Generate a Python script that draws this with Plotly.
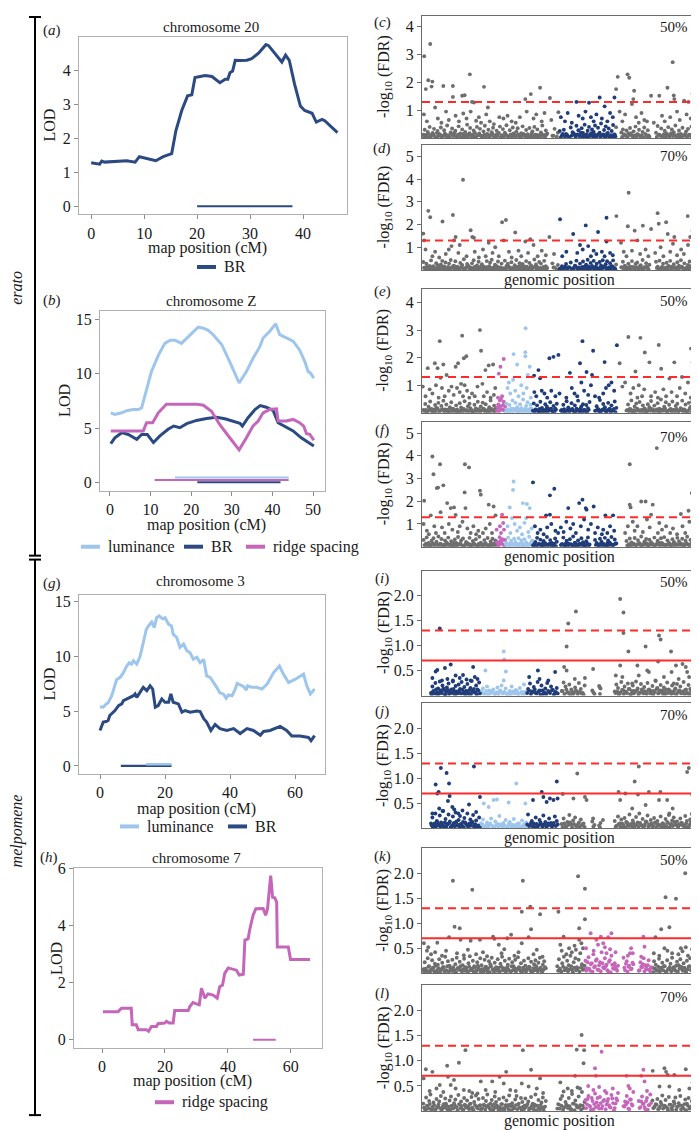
import plotly.graph_objects as go

# The page body adds an 8px margin, so the figure is drawn 8px smaller and every
# position below (given in reference-image pixels) is shifted by that offset.
OFF = 8
W, H = 699 - OFF, 1130 - OFF
FONT = "Liberation Serif"

C_BR = "#2b4a82"
C_LUM = "#9ec6ec"
C_RIDGE = "#c467ba"
C_GREY = "#6e6e6e"
C_BR_PT = "#203d7a"
C_RED = "#ff2a2a"
TXT = "#1a1a1a"

# ---------------- LOD profiles (map position cM, LOD) ----------------
a_pos = [0, 1.1, 1.6, 2.0, 2.5, 6.7, 7.7, 8.3, 9.1, 10.5, 12.2, 13.6, 15.2, 16.0, 17.1,
         18.2, 19.0, 19.6, 20.6, 21.5, 22.8, 24.3, 25.3, 25.8, 26.2, 26.7, 27.2, 28.1, 29.4, 30.3,
         31.6, 33.0, 33.5, 34.7, 36.0, 36.7, 37.4, 38.4, 39.5, 40.3, 41.7, 42.5, 43.6, 44.1, 46.5]
a_br = [1.28, 1.26, 1.24, 1.33, 1.30, 1.34, 1.31, 1.30, 1.46, 1.40, 1.34, 1.46, 1.55, 2.23, 2.82,
        3.25, 3.28, 3.79, 3.83, 3.85, 3.82, 3.64, 3.74, 3.74, 3.93, 3.98, 4.30, 4.29, 4.30, 4.35,
        4.51, 4.76, 4.73, 4.51, 4.25, 4.45, 4.30, 3.60, 2.95, 2.82, 2.74, 2.48, 2.56, 2.52, 2.17]
a_ci_br = [20.0, 38.0]

b_lum_pos = [0.2, 1.2, 2.9, 4.1, 5.7, 7.0, 7.8, 9.0, 10.2, 11.9, 13.5, 14.8, 16.0, 17.6, 18.9,
             20.5, 21.7, 23.0, 24.2, 25.4, 27.5, 29.5, 31.8, 33.6, 35.2, 36.9, 37.7, 39.3, 40.8,
             41.8, 43.0, 45.1, 46.7, 48.0, 48.8, 49.3, 50.2]
b_lum = [6.4, 6.25, 6.4, 6.6, 6.7, 6.7, 6.86, 8.5, 10.2, 11.7, 12.8, 13.1, 13.1, 12.8, 13.3,
         13.9, 14.3, 14.2, 14.0, 13.6, 12.7, 11.1, 9.15, 10.2, 11.4, 12.5, 13.3, 13.9, 14.6,
         13.6, 13.4, 13.0, 12.2, 11.1, 10.2, 10.1, 9.6]
b_br_pos = [0.2, 1.2, 2.9, 4.5, 6.6, 7.8, 9.2, 10.7, 12.3, 14.3, 15.7, 17.2, 18.9, 21.3, 23.8,
            26.2, 28.3, 30.3, 32.0, 32.6, 34.0, 35.7, 37.0, 38.5, 40.2, 41.4, 43.0, 45.1, 47.1,
            48.8, 50.2]
b_br = [3.57, 4.1, 4.57, 4.4, 3.96, 4.4, 4.4, 3.66, 4.27, 4.88, 5.18, 5.03, 5.4, 5.7, 5.88,
        6.0, 5.85, 5.64, 5.43, 5.18, 5.95, 6.7, 7.07, 6.92, 6.6, 5.49, 5.18, 4.73, 4.1, 3.66, 3.35]
b_ridge_pos = [0.2, 8.2, 9.0, 10.5, 11.9, 13.9, 21.3, 23.0, 25.0, 27.0, 29.5, 31.8, 33.6, 35.2,
               36.5, 37.7, 39.3, 41.0, 41.4, 43.4, 45.1, 46.7, 47.7, 48.4, 49.2, 50.2]
b_ridge = [4.73, 4.73, 5.49, 5.49, 6.4, 7.2, 7.2, 7.1, 6.55, 5.33, 4.1, 2.99, 4.1, 5.18, 5.64,
           6.4, 6.7, 6.77, 5.64, 5.64, 5.79, 5.49, 5.18, 4.48, 4.42, 3.87]
b_ci_lum = [16.0, 44.0]
b_ci_ridge = [11.0, 44.0]
b_ci_br = [21.5, 42.0]

g_lum_pos = [0, 1.0, 1.9, 2.5, 3.6, 4.6, 5.1, 6.2, 7.2, 8.2, 9.0, 9.7, 10.3, 11.3, 12.3, 13.3,
             14.2, 14.9, 15.9, 16.7, 17.4, 18.2, 19.3, 20.0, 21.1, 22.0, 22.5, 23.6, 24.6, 25.7,
             26.7, 27.7, 28.7, 29.8, 30.8, 31.9, 32.8, 33.9, 34.9, 35.9, 36.9, 37.9, 38.8, 39.5,
             40.6, 41.6, 42.2, 43.1, 44.1, 45.0, 45.4, 46.6, 48.2, 49.8, 51.4, 53.4, 55.2, 56.4,
             58.0, 60.1, 62.6, 63.6, 64.7, 66.0]
g_lum = [5.4, 5.35, 5.65, 5.74, 6.4, 7.3, 7.85, 8.07, 8.5, 9.1, 9.4, 9.27, 9.58, 9.27, 9.97, 11.2,
         12.4, 12.75, 13.1, 12.6, 13.5, 13.66, 13.4, 13.5, 12.9, 12.75, 12.0, 11.7, 10.8, 11.1,
         10.5, 10.3, 9.73, 9.9, 9.4, 9.7, 8.2, 8.07, 7.67, 7.16, 6.65, 6.56, 6.16, 6.47,
         6.4, 7.0, 7.52, 7.37, 7.25, 6.92, 7.31, 7.16, 7.16, 7.0, 7.46, 8.5, 9.1, 8.37,
         7.6, 7.9, 8.37, 7.3, 6.56, 7.0]
g_br_pos = [0, 1.0, 1.9, 2.5, 3.0, 4.6, 5.7, 6.7, 7.2, 8.2, 9.2, 10.3, 10.8, 11.3, 12.3, 13.3,
            14.4, 15.4, 16.2, 17.0, 17.9, 19.0, 20.0, 21.1, 21.8, 22.5, 24.1, 25.2, 26.2, 27.7,
            29.8, 30.8, 31.9, 32.8, 34.1, 35.4, 36.9, 39.0, 41.1, 43.1, 45.2, 47.2, 49.3, 50.3,
            52.3, 55.4, 57.4, 59.0, 61.5, 64.1, 64.9, 66.0]
g_br = [3.23, 4.0, 4.05, 4.14, 4.6, 5.05, 5.5, 5.65, 5.95, 6.1, 6.25, 6.4, 6.56, 6.25, 6.7, 7.16,
        6.86, 7.3, 7.0, 5.35, 5.5, 6.1, 5.8, 5.8, 6.56, 5.8, 5.65, 4.9, 5.05, 4.9,
        5.0, 4.95, 4.3, 4.0, 3.23, 3.78, 3.4, 3.23, 3.4, 2.95, 3.4, 3.23, 2.8, 3.14,
        3.23, 3.6, 3.23, 2.72, 2.72, 2.6, 2.3, 2.76]
g_ci_br = [6.4, 22.0]
g_ci_lum = [14.1, 22.0]

h_pos = [0.3, 5.1, 6.2, 9.3, 9.6, 10.9, 11.5, 14.1, 14.8, 15.7, 17.3, 17.8, 19.9, 20.5, 21.3,
         22.6, 23.1, 27.4, 27.9, 28.9, 30.0, 30.9, 31.6, 32.7, 33.7, 35.3, 36.6, 37.4, 38.3,
         39.0, 40.1, 41.7, 42.7, 43.6, 44.9, 45.4, 46.4, 47.0, 48.0, 48.9, 51.2, 52.0, 52.6,
         53.6, 54.2, 54.9, 55.5, 55.7, 59.2, 59.9, 66.1]
h_ridge = [0.98, 0.98, 1.1, 1.1, 0.52, 0.52, 0.35, 0.35, 0.29, 0.46, 0.46, 0.56, 0.58, 0.64, 0.58,
           0.58, 1.02, 1.02, 1.16, 1.3, 1.25, 1.22, 1.8, 1.45, 1.6, 1.56, 1.45, 1.85, 1.91,
           2.32, 2.51, 2.46, 2.43, 2.26, 2.29, 3.48, 3.52, 3.88, 4.35, 4.58, 4.59, 4.35, 4.58,
           5.74, 4.98, 4.96, 4.81, 3.24, 3.24, 2.8, 2.8]
h_ci_ridge = [48.0, 55.2]

# ---------------- Manhattan plots: genomic position (% of genome), -log10(FDR) ----------------
fdr_dashed = 1.3   # -log10(0.05)
fdr_solid = 0.7    # -log10(0.2)

cd_regions = [(49.8, 70.5, "BR")]
ef_regions = [(27.0, 30.3, "ridge"), (30.3, 40.2, "lum"), (40.2, 71.5, "BR")]
ij_regions = [(2.5, 21.1, "BR"), (21.1, 38.2, "lum"), (38.2, 50.0, "BR")]
kl_regions = [(59.4, 83.8, "ridge")]

cd_carpet_x = [0.2, 0.7, 1.3, 1.8, 2.5, 3.0, 3.6, 4.1, 4.9, 5.4,
               6.0, 6.6, 7.1, 7.8, 8.3, 8.9, 9.6, 10.2, 10.7, 11.4,
               11.9, 12.6, 13.1, 13.7, 14.4, 15.0, 15.5, 16.2, 16.8, 17.3,
               18.0, 18.6, 19.1, 19.8, 20.4, 20.9, 21.6, 22.2, 22.7, 23.4,
               24.0, 24.6, 25.2, 25.7, 26.4, 27.0, 27.5, 28.2, 28.8, 29.3,
               30.0, 30.6, 31.1, 31.8, 32.4, 32.9, 33.6, 34.2, 34.7, 35.4,
               36.0, 36.5, 37.2, 37.8, 38.3, 39.0, 39.6, 40.1, 40.8, 41.4,
               41.9, 42.6, 43.2, 43.7, 44.4, 45.0, 45.5, 47.4, 48.2, 49.4,
               50.1, 50.9, 51.6, 52.4, 53.3, 54.1, 54.8, 55.6, 56.2, 56.9,
               57.5, 58.1, 58.6, 59.2, 59.7, 60.3, 60.8, 61.4, 61.9, 62.5,
               63.0, 63.6, 64.1, 64.7, 65.2, 65.8, 66.3, 66.9, 67.4, 68.0,
               68.5, 69.1, 69.6, 70.2, 70.7, 72.6, 73.2, 73.9, 74.5, 75.2,
               75.8, 76.5, 77.1, 77.8, 78.4, 79.1, 79.7, 80.4, 81.0, 81.7,
               82.3, 82.9, 85.3, 85.9, 86.6, 87.2, 87.9, 88.5, 89.2, 89.8,
               90.5, 91.1, 91.8, 92.4, 93.1, 93.7, 94.4, 95.0, 95.7, 96.3,
               97.0, 97.6, 98.3, 98.9, 99.5]
c_carpet_y = [0.12, 0.30, 0.05, 0.22, 0.40, 0.08, 0.18, 0.33, 0.03, 0.25,
              0.15, 0.38, 0.07, 0.28, 0.12, 0.45, 0.04, 0.20, 0.34, 0.10,
              0.26, 0.06, 0.42, 0.16, 0.31, 0.09, 0.22, 0.48, 0.13, 0.36,
              0.05, 0.27, 0.18, 0.40, 0.11, 0.33, 0.07, 0.24, 0.44, 0.14,
              0.30, 0.09, 0.21, 0.37, 0.04, 0.26, 0.15, 0.41, 0.08, 0.32,
              0.19, 0.46, 0.06, 0.28, 0.13, 0.38, 0.10, 0.23, 0.35, 0.05,
              0.17, 0.42, 0.09, 0.29, 0.14, 0.36, 0.06, 0.24, 0.40, 0.12,
              0.31, 0.07, 0.20, 0.45, 0.11, 0.27, 0.16, 0.08, 0.33, 0.19,
              0.25, 0.10, 0.30, 0.15, 0.05, 0.38, 0.21, 0.12, 0.44, 0.28,
              0.09, 0.35, 0.18, 0.48, 0.06, 0.26, 0.40, 0.14, 0.31, 0.22,
              0.45, 0.08, 0.37, 0.19, 0.52, 0.11, 0.29, 0.42, 0.16, 0.34,
              0.06, 0.25, 0.47, 0.13, 0.39, 0.20, 0.31, 0.10, 0.27, 0.17,
              0.36, 0.09, 0.24, 0.41, 0.14, 0.30, 0.07, 0.22, 0.38, 0.11,
              0.28, 0.05, 0.19, 0.43, 0.12, 0.34, 0.08, 0.26, 0.16, 0.39,
              0.10, 0.31, 0.21, 0.45, 0.06, 0.27, 0.15, 0.37, 0.09, 0.24,
              0.33, 0.12, 0.41, 0.20, 0.07]
d_carpet_y = [0.35, 0.10, 0.27, 0.05, 0.18, 0.42, 0.13, 0.08, 0.30, 0.21,
              0.06, 0.24, 0.40, 0.15, 0.33, 0.09, 0.28, 0.44, 0.12, 0.19,
              0.38, 0.14, 0.07, 0.31, 0.22, 0.47, 0.05, 0.26, 0.17, 0.10,
              0.29, 0.43, 0.11, 0.20, 0.36, 0.08, 0.25, 0.15, 0.04, 0.39,
              0.12, 0.32, 0.45, 0.07, 0.23, 0.16, 0.37, 0.10, 0.28, 0.05,
              0.41, 0.18, 0.27, 0.09, 0.34, 0.06, 0.21, 0.44, 0.14, 0.30,
              0.08, 0.26, 0.15, 0.39, 0.05, 0.31, 0.20, 0.12, 0.46, 0.24,
              0.13, 0.35, 0.28, 0.06, 0.40, 0.17, 0.09, 0.29, 0.11, 0.22,
              0.05, 0.16, 0.08, 0.26, 0.12, 0.33, 0.07, 0.19, 0.41, 0.10,
              0.28, 0.06, 0.37, 0.14, 0.23, 0.45, 0.09, 0.31, 0.18, 0.40,
              0.11, 0.27, 0.05, 0.35, 0.20, 0.43, 0.13, 0.25, 0.38, 0.08,
              0.30, 0.16, 0.42, 0.07, 0.24, 0.12, 0.36, 0.19, 0.05, 0.28,
              0.15, 0.39, 0.09, 0.26, 0.33, 0.06, 0.21, 0.44, 0.12, 0.30,
              0.07, 0.23, 0.36, 0.14, 0.41, 0.10, 0.27, 0.05, 0.32, 0.18,
              0.40, 0.13, 0.25, 0.08, 0.34, 0.19, 0.43, 0.11, 0.29, 0.06,
              0.22, 0.37, 0.09, 0.31, 0.15]
cd_low_x = [0.45, 1.05, 1.55, 2.15, 2.75, 3.3, 3.85, 4.5, 5.15, 5.7,
            6.3, 6.9, 7.45, 8.05, 8.6, 9.25, 9.9, 10.45, 11.1, 11.65,
            12.25, 12.85, 13.4, 14.05, 14.7, 15.25, 15.85, 16.5, 17.05, 17.65,
            18.3, 18.85, 19.45, 20.1, 20.65, 21.25, 21.9, 22.45, 23.1, 23.7,
            24.3, 24.9, 25.45, 26.05, 26.7, 27.25, 27.85, 28.5, 29.05, 29.65,
            30.3, 30.85, 31.45, 32.1, 32.65, 33.25, 33.9, 34.45, 35.05, 35.7,
            36.25, 36.85, 37.5, 38.05, 38.65, 39.3, 39.85, 40.45, 41.1, 41.65,
            42.25, 42.9, 43.45, 44.05, 44.7, 45.25, 47.8, 49.0, 50.5, 51.2,
            52.0, 52.8, 53.7, 54.5, 55.2, 55.9, 56.55, 57.2, 57.8, 58.35,
            58.9, 59.45, 60.0, 60.55, 61.1, 61.65, 62.2, 62.75, 63.3, 63.85,
            64.4, 64.95, 65.5, 66.05, 66.6, 67.15, 67.7, 68.25, 68.8, 69.35,
            69.9, 70.45, 72.9, 73.55, 74.2, 74.85, 75.5, 76.15, 76.8, 77.45,
            78.1, 78.75, 79.4, 80.05, 80.7, 81.35, 82.0, 82.6, 85.6, 86.25,
            86.9, 87.55, 88.2, 88.85, 89.5, 90.15, 90.8, 91.45, 92.1, 92.75,
            93.4, 94.05, 94.7, 95.35, 96.0, 96.65, 97.3, 97.95, 98.6, 99.2]
c_low_y = [0.03, 0.11, 0.06, 0.15, 0.02, 0.09, 0.13, 0.04, 0.18, 0.07,
           0.12, 0.02, 0.08, 0.16, 0.05, 0.10, 0.01, 0.14, 0.07, 0.19,
           0.04, 0.12, 0.09, 0.02, 0.15, 0.06, 0.11, 0.03, 0.17, 0.08,
           0.13, 0.05, 0.02, 0.10, 0.16, 0.07, 0.03, 0.12, 0.06, 0.14,
           0.02, 0.09, 0.15, 0.04, 0.11, 0.07, 0.18, 0.03, 0.10, 0.05,
           0.14, 0.08, 0.02, 0.12, 0.06, 0.16, 0.04, 0.09, 0.13, 0.03,
           0.07, 0.15, 0.05, 0.11, 0.02, 0.09, 0.17, 0.06, 0.12, 0.04,
           0.10, 0.03, 0.14, 0.07, 0.02, 0.12, 0.08, 0.05, 0.03, 0.15,
           0.06, 0.11, 0.02, 0.09, 0.16, 0.04, 0.13, 0.07, 0.19, 0.03,
           0.10, 0.05, 0.14, 0.02, 0.08, 0.17, 0.06, 0.12, 0.03, 0.11,
           0.15, 0.04, 0.09, 0.13, 0.02, 0.07, 0.18, 0.05, 0.10, 0.03,
           0.12, 0.06, 0.04, 0.14, 0.08, 0.02, 0.11, 0.16, 0.05, 0.09,
           0.03, 0.13, 0.07, 0.10, 0.02, 0.15, 0.06, 0.09, 0.04, 0.12,
           0.08, 0.02, 0.14, 0.05, 0.11, 0.03, 0.17, 0.07, 0.10, 0.04,
           0.13, 0.06, 0.02, 0.09, 0.15, 0.04, 0.11, 0.07, 0.03, 0.12]
d_low_y = [0.09, 0.02, 0.14, 0.06, 0.11, 0.03, 0.17, 0.08, 0.04, 0.12,
           0.05, 0.15, 0.03, 0.10, 0.07, 0.13, 0.02, 0.09, 0.16, 0.04,
           0.11, 0.06, 0.02, 0.14, 0.08, 0.03, 0.12, 0.18, 0.05, 0.10,
           0.03, 0.13, 0.07, 0.02, 0.10, 0.15, 0.05, 0.08, 0.12, 0.02,
           0.16, 0.04, 0.09, 0.12, 0.03, 0.14, 0.06, 0.11, 0.02, 0.08,
           0.05, 0.10, 0.15, 0.03, 0.09, 0.02, 0.13, 0.07, 0.04, 0.17,
           0.12, 0.03, 0.08, 0.14, 0.06, 0.11, 0.02, 0.10, 0.15, 0.05,
           0.02, 0.09, 0.06, 0.13, 0.04, 0.08, 0.11, 0.03, 0.07, 0.10,
           0.14, 0.05, 0.11, 0.02, 0.08, 0.16, 0.04, 0.10, 0.06, 0.13,
           0.03, 0.12, 0.07, 0.15, 0.02, 0.09, 0.11, 0.05, 0.14, 0.08,
           0.06, 0.10, 0.02, 0.13, 0.16, 0.04, 0.08, 0.12, 0.03, 0.15,
           0.09, 0.03, 0.11, 0.06, 0.14, 0.10, 0.02, 0.07, 0.13, 0.05,
           0.12, 0.04, 0.16, 0.08, 0.03, 0.11, 0.14, 0.02, 0.09, 0.06,
           0.03, 0.13, 0.07, 0.10, 0.05, 0.15, 0.02, 0.12, 0.08, 0.11,
           0.06, 0.09, 0.14, 0.03, 0.07, 0.12, 0.05, 0.16, 0.10, 0.04]
c_peaks = [(0.5, 2.94), (1.1, 1.76), (2.0, 2.08), (2.7, 3.38), (3.5, 2.03), (3.2, 1.85), (0.4, 0.85),
           (1.5, 0.6), (4.5, 1.1), (5.5, 0.7), (6.8, 0.55), (7.5, 1.87), (8.5, 0.95), (9.5, 0.65),
           (11.0, 1.87), (11.0, 1.48), (12.0, 0.8), (13.2, 0.6), (14.4, 1.52), (15.3, 1.54),
           (14.8, 0.88), (16.0, 0.7), (17.2, 2.29), (18.0, 1.3), (18.7, 1.28), (17.5, 0.95),
           (19.5, 0.62), (20.5, 0.75), (21.3, 0.55), (22.4, 1.84), (23.8, 1.1), (23.2, 0.85),
           (24.5, 0.6), (26.0, 0.5), (28.0, 0.75), (29.5, 0.7), (31.0, 0.8), (32.5, 0.6),
           (34.0, 0.55), (35.5, 0.75), (37.5, 1.4), (38.0, 0.95), (39.5, 1.58), (40.5, 0.7),
           (41.5, 0.85), (42.9, 1.81), (43.5, 0.6), (44.5, 0.9), (46.5, 1.44), (47.0, 0.65),
           (49.6, 0.93), (50.5, 0.75), (52.0, 0.6), (53.0, 0.9), (54.5, 0.55), (56.2, 1.3),
           (57.0, 0.8), (58.5, 0.7), (59.5, 0.95), (60.8, 1.27), (61.5, 0.75), (62.5, 0.6),
           (63.5, 0.85), (64.7, 1.46), (65.5, 0.7), (66.5, 1.14), (67.5, 0.6), (68.5, 0.9),
           (69.5, 0.75), (70.1, 1.46), (70.7, 1.76), (71.3, 2.2), (72.0, 0.95), (73.0, 0.6),
           (74.0, 0.85), (74.9, 2.29), (75.5, 2.17), (77.3, 1.7), (77.0, 1.4), (76.5, 1.22),
           (78.0, 0.75), (79.0, 0.55), (80.0, 0.9), (81.0, 0.65), (82.0, 0.6), (83.5, 1.52),
           (84.5, 0.55), (86.5, 1.52), (87.5, 0.8), (88.5, 0.6), (89.5, 1.81), (90.5, 0.75),
           (91.4, 2.73), (91.8, 1.53), (92.0, 1.4), (93.0, 0.95), (94.0, 0.65), (95.6, 1.34),
           (96.5, 0.85), (97.2, 1.3), (98.0, 0.7), (98.9, 2.65), (99.6, 2.79), (99.6, 1.78),
           (98.7, 1.58), (99.2, 1.05)]
d_peaks = [(0.2, 1.6), (0.5, 1.3), (2.0, 2.6), (2.7, 2.32), (7.2, 2.13), (8.4, 0.7), (11.0, 2.42),
           (12.0, 1.45), (11.4, 1.3), (14.7, 3.97), (17.5, 1.75), (18.1, 1.45), (18.7, 1.42),
           (24.1, 1.2), (29.0, 2.1), (30.4, 2.2), (29.6, 1.3), (33.8, 1.65), (37.5, 1.25),
           (39.3, 1.35), (46.3, 1.45), (50.2, 2.23), (55.0, 1.58), (59.6, 1.96), (64.1, 1.67),
           (67.2, 2.3), (67.2, 1.25), (70.8, 2.37), (75.3, 3.4), (75.0, 1.92), (77.5, 1.73),
           (80.5, 1.95), (83.5, 1.8), (85.9, 2.5), (86.3, 2.03), (89.0, 2.1), (89.6, 1.58),
           (92.0, 1.45), (96.9, 2.37), (99.3, 4.3), (99.5, 2.2), (98.7, 1.73), (97.8, 1.45),
           (1.0, 0.9), (3.5, 0.6), (4.5, 0.8), (6.0, 0.55), (9.5, 0.9), (10.5, 1.05), (13.0, 0.75),
           (13.5, 1.1), (16.0, 0.6), (19.0, 0.8), (20.5, 0.55), (22.0, 0.9), (23.0, 0.6),
           (25.5, 0.75), (26.5, 1.0), (27.8, 0.6), (31.5, 0.8), (32.5, 0.55), (35.0, 0.85),
           (36.0, 0.6), (38.5, 0.75), (40.5, 1.1), (42.0, 0.6), (43.5, 0.85), (45.0, 0.65),
           (48.0, 0.7), (51.0, 0.6), (52.5, 0.8), (56.5, 0.75), (57.5, 1.1), (58.5, 0.9),
           (60.5, 1.05), (61.5, 0.6), (62.5, 0.85), (63.5, 0.7), (65.5, 0.8), (66.5, 0.6),
           (68.5, 0.75), (69.5, 0.65), (72.5, 1.2), (73.5, 0.8), (74.5, 0.6), (76.5, 0.85),
           (78.5, 1.3), (79.5, 0.7), (81.5, 0.9), (82.5, 0.6), (85.0, 0.75), (87.0, 1.0),
           (88.0, 0.6), (90.5, 0.8), (91.5, 1.15), (93.0, 0.65), (94.5, 0.9), (95.5, 0.7),
           (97.0, 1.1), (99.0, 0.8)]

ef_carpet_x = [0.3, 0.9, 1.4, 2.1, 2.7, 3.2, 3.9, 4.5, 5.0, 5.7,
               6.3, 6.8, 7.5, 8.1, 8.6, 9.3, 9.9, 10.4, 11.1, 11.7,
               12.2, 12.9, 13.5, 14.0, 14.7, 15.3, 15.8, 16.5, 17.1, 17.6,
               18.3, 18.9, 19.4, 20.1, 20.7, 21.2, 21.9, 22.5, 23.0, 23.7,
               24.3, 24.8, 25.5, 26.1, 26.6, 27.2, 27.6, 28.1, 28.6, 29.1,
               29.6, 30.1, 30.6, 31.2, 31.7, 32.3, 32.8, 33.4, 33.9, 34.5,
               35.0, 35.6, 36.1, 36.7, 37.2, 37.8, 38.3, 38.9, 39.4, 40.0,
               40.6, 41.2, 41.8, 42.4, 43.0, 43.6, 44.2, 44.8, 45.4, 46.0,
               46.6, 47.2, 47.8, 48.4, 49.0, 50.8, 51.4, 52.0, 52.6, 53.2,
               53.8, 54.4, 55.0, 55.6, 56.2, 56.8, 57.4, 58.0, 58.6, 59.2,
               59.8, 60.4, 61.0, 63.0, 63.6, 64.2, 64.8, 65.4, 66.0, 66.6,
               67.2, 67.8, 68.4, 69.0, 69.6, 70.2, 70.8, 74.5, 75.1, 75.7,
               76.3, 76.9, 77.5, 78.1, 78.7, 79.3, 79.9, 80.5, 81.1, 81.7,
               82.3, 82.9, 83.5, 84.1, 84.7, 85.3, 85.9, 86.5, 87.1, 87.7,
               88.3, 88.9, 89.5, 90.1, 90.7, 91.3, 91.9, 92.5, 93.1, 93.7,
               94.3, 94.9, 95.5, 96.1, 96.7, 97.3, 97.9, 98.5, 99.1, 99.7]
e_carpet_y = [0.10, 0.32, 0.06, 0.22, 0.41, 0.14, 0.05, 0.28, 0.18, 0.36,
              0.08, 0.25, 0.44, 0.12, 0.30, 0.04, 0.20, 0.38, 0.15, 0.09,
              0.27, 0.06, 0.35, 0.19, 0.11, 0.42, 0.07, 0.24, 0.33, 0.13,
              0.05, 0.29, 0.16, 0.40, 0.09, 0.23, 0.37, 0.12, 0.31, 0.06,
              0.20, 0.45, 0.10, 0.26, 0.15, 0.08, 0.30, 0.18, 0.50, 0.12,
              0.40, 0.22, 0.33, 0.07, 0.28, 0.15, 0.45, 0.11, 0.36, 0.20,
              0.05, 0.31, 0.17, 0.48, 0.09, 0.25, 0.38, 0.13, 0.29, 0.06,
              0.34, 0.12, 0.27, 0.05, 0.40, 0.18, 0.09, 0.31, 0.22, 0.14,
              0.38, 0.07, 0.25, 0.16, 0.33, 0.10, 0.29, 0.05, 0.42, 0.19,
              0.12, 0.35, 0.08, 0.27, 0.15, 0.44, 0.06, 0.23, 0.31, 0.10,
              0.28, 0.17, 0.39, 0.07, 0.24, 0.13, 0.46, 0.09, 0.32, 0.20,
              0.05, 0.36, 0.15, 0.27, 0.10, 0.41, 0.18, 0.08, 0.30, 0.14,
              0.45, 0.06, 0.23, 0.34, 0.12, 0.39, 0.09, 0.27, 0.16, 0.05,
              0.31, 0.20, 0.43, 0.11, 0.26, 0.07, 0.35, 0.15, 0.48, 0.09,
              0.22, 0.38, 0.06, 0.29, 0.14, 0.41, 0.10, 0.25, 0.33, 0.08,
              0.17, 0.44, 0.12, 0.30, 0.05, 0.36, 0.21, 0.40, 0.15, 0.27]
f_carpet_y = [0.30, 0.08, 0.41, 0.16, 0.05, 0.26, 0.37, 0.11, 0.22, 0.45,
              0.13, 0.34, 0.06, 0.28, 0.19, 0.40, 0.09, 0.24, 0.05, 0.32,
              0.17, 0.43, 0.10, 0.27, 0.36, 0.07, 0.21, 0.14, 0.39, 0.06,
              0.25, 0.11, 0.33, 0.05, 0.44, 0.18, 0.08, 0.29, 0.15, 0.38,
              0.07, 0.23, 0.35, 0.12, 0.28, 0.20, 0.05, 0.42, 0.14, 0.33,
              0.09, 0.30, 0.16, 0.40, 0.06, 0.26, 0.12, 0.35, 0.21, 0.08,
              0.37, 0.14, 0.28, 0.05, 0.33, 0.19, 0.10, 0.44, 0.16, 0.27,
              0.08, 0.21, 0.39, 0.12, 0.31, 0.06, 0.25, 0.15, 0.43, 0.10,
              0.29, 0.17, 0.05, 0.36, 0.22, 0.11, 0.40, 0.07, 0.26, 0.14,
              0.33, 0.09, 0.45, 0.18, 0.06, 0.28, 0.13, 0.37, 0.20, 0.05,
              0.24, 0.41, 0.10, 0.30, 0.16, 0.07, 0.35, 0.22, 0.12, 0.39,
              0.06, 0.27, 0.18, 0.43, 0.09, 0.32, 0.14, 0.25, 0.05, 0.36,
              0.19, 0.11, 0.38, 0.07, 0.29, 0.15, 0.45, 0.10, 0.23, 0.34,
              0.05, 0.31, 0.20, 0.12, 0.40, 0.08, 0.26, 0.17, 0.37, 0.13,
              0.42, 0.09, 0.28, 0.16, 0.06, 0.33, 0.21, 0.11, 0.39, 0.24,
              0.14, 0.35, 0.07, 0.26, 0.44, 0.10, 0.30, 0.18, 0.05, 0.38]
ef_low_x = [0.6, 1.15, 1.75, 2.4, 2.95, 3.55, 4.2, 4.75, 5.35, 6.0,
            6.55, 7.15, 7.8, 8.35, 8.95, 9.6, 10.15, 10.75, 11.4, 11.95,
            12.55, 13.2, 13.75, 14.35, 15.0, 15.55, 16.15, 16.8, 17.35, 17.95,
            18.6, 19.15, 19.75, 20.4, 20.95, 21.55, 22.2, 22.75, 23.35, 24.0,
            24.55, 25.15, 25.8, 26.35, 26.85, 27.4, 27.85, 28.35, 28.85, 29.35,
            29.85, 30.35, 30.9, 31.45, 32.0, 32.55, 33.1, 33.65, 34.2, 34.75,
            35.3, 35.85, 36.4, 36.95, 37.5, 38.05, 38.6, 39.15, 39.7, 40.3,
            40.9, 41.5, 42.1, 42.7, 43.3, 43.9, 44.5, 45.1, 45.7, 46.3,
            46.9, 47.5, 48.1, 48.7, 50.5, 51.1, 51.7, 52.3, 52.9, 53.5,
            54.1, 54.7, 55.3, 55.9, 56.5, 57.1, 57.7, 58.3, 58.9, 59.5,
            60.1, 60.7, 63.3, 63.9, 64.5, 65.1, 65.7, 66.3, 66.9, 67.5,
            68.1, 68.7, 69.3, 69.9, 70.5, 74.8, 75.4, 76.0, 76.6, 77.2,
            77.8, 78.4, 79.0, 79.6, 80.2, 80.8, 81.4, 82.0, 82.6, 83.2,
            83.8, 84.4, 85.0, 85.6, 86.2, 86.8, 87.4, 88.0, 88.6, 89.2,
            89.8, 90.4, 91.0, 91.6, 92.2, 92.8, 93.4, 94.0, 94.6, 95.2,
            95.8, 96.4, 97.0, 97.6, 98.2, 98.8, 99.4, 99.9]
e_low_y = [0.02, 0.10, 0.05, 0.14, 0.08, 0.03, 0.12, 0.06, 0.16, 0.04,
           0.09, 0.13, 0.02, 0.07, 0.11, 0.04, 0.15, 0.06, 0.10, 0.03,
           0.12, 0.05, 0.08, 0.02, 0.14, 0.07, 0.10, 0.04, 0.17, 0.06,
           0.03, 0.11, 0.06, 0.13, 0.02, 0.09, 0.15, 0.05, 0.08, 0.12,
           0.04, 0.14, 0.07, 0.02, 0.10, 0.20, 0.06, 0.24, 0.12, 0.28,
           0.08, 0.03, 0.13, 0.06, 0.10, 0.02, 0.15, 0.07, 0.11, 0.04,
           0.12, 0.05, 0.09, 0.02, 0.14, 0.06, 0.10, 0.03, 0.16, 0.08,
           0.04, 0.11, 0.07, 0.14, 0.02, 0.09, 0.05, 0.13, 0.03, 0.10,
           0.15, 0.06, 0.02, 0.11, 0.08, 0.04, 0.13, 0.07, 0.10, 0.03,
           0.09, 0.14, 0.05, 0.02, 0.12, 0.07, 0.16, 0.04, 0.10, 0.06,
           0.03, 0.11, 0.08, 0.13, 0.05, 0.02, 0.10, 0.15, 0.06, 0.09,
           0.12, 0.04, 0.07, 0.14, 0.02, 0.10, 0.06, 0.13, 0.03, 0.09,
           0.05, 0.15, 0.08, 0.02, 0.11, 0.06, 0.13, 0.04, 0.10, 0.07,
           0.14, 0.03, 0.09, 0.12, 0.05, 0.02, 0.11, 0.07, 0.16, 0.04,
           0.08, 0.12, 0.03, 0.10, 0.06, 0.14, 0.02, 0.09, 0.13, 0.05,
           0.11, 0.04, 0.07, 0.15, 0.02, 0.10, 0.06, 0.12]
f_low_y = [0.07, 0.13, 0.03, 0.10, 0.05, 0.15, 0.02, 0.11, 0.08, 0.04,
           0.12, 0.06, 0.09, 0.02, 0.14, 0.05, 0.10, 0.03, 0.16, 0.07,
           0.04, 0.11, 0.14, 0.06, 0.02, 0.09, 0.13, 0.05, 0.10, 0.03,
           0.15, 0.08, 0.02, 0.12, 0.06, 0.10, 0.04, 0.14, 0.07, 0.02,
           0.09, 0.05, 0.13, 0.03, 0.11, 0.18, 0.08, 0.25, 0.14, 0.30,
           0.06, 0.12, 0.02, 0.09, 0.15, 0.04, 0.10, 0.07, 0.13, 0.03,
           0.10, 0.04, 0.14, 0.07, 0.02, 0.12, 0.05, 0.09, 0.16, 0.06,
           0.13, 0.03, 0.08, 0.11, 0.05, 0.15, 0.02, 0.10, 0.07, 0.12,
           0.04, 0.09, 0.13, 0.02, 0.07, 0.11, 0.05, 0.14, 0.03, 0.08,
           0.11, 0.06, 0.02, 0.15, 0.09, 0.04, 0.12, 0.07, 0.10, 0.03,
           0.14, 0.05, 0.08, 0.11, 0.02, 0.13, 0.06, 0.10, 0.04, 0.16,
           0.07, 0.12, 0.03, 0.09, 0.14, 0.05, 0.11, 0.02, 0.08, 0.13,
           0.04, 0.10, 0.15, 0.06, 0.03, 0.12, 0.08, 0.14, 0.05, 0.09,
           0.11, 0.02, 0.07, 0.13, 0.10, 0.04, 0.16, 0.06, 0.09, 0.03,
           0.12, 0.08, 0.05, 0.14, 0.02, 0.10, 0.07, 0.13, 0.04, 0.11,
           0.06, 0.15, 0.09, 0.03, 0.12, 0.05, 0.10, 0.07]
e_peaks = [(0.0, 0.95), (1.8, 1.62), (4.4, 1.8), (5.4, 1.62), (6.2, 2.6), (6.5, 1.27), (7.5, 1.75),
           (8.7, 1.37), (12.0, 1.67), (12.9, 1.8), (15.0, 1.98), (15.9, 2.05), (14.4, 2.8),
           (15.3, 1.0), (20.9, 3.0), (21.3, 2.25), (22.9, 1.55), (24.1, 1.72), (25.7, 1.75),
           (27.8, 1.42), (28.4, 1.67), (29.6, 1.95), (33.2, 2.13), (33.0, 1.2), (34.5, 1.75),
           (37.6, 3.07), (37.5, 2.2), (37.5, 2.05), (38.4, 1.37), (39.1, 1.67), (40.7, 1.35),
           (42.3, 1.55), (42.9, 1.25), (46.3, 1.98), (47.8, 2.03), (49.6, 2.1), (53.8, 1.45),
           (58.4, 2.6), (57.5, 1.8), (59.9, 1.48), (62.3, 2.25), (61.9, 1.37), (66.5, 1.84),
           (71.0, 2.45), (72.0, 1.8), (75.2, 2.75), (77.8, 1.5), (79.6, 2.72), (81.2, 2.19),
           (82.9, 1.83), (86.3, 2.46), (87.2, 1.6), (90.2, 1.24), (92.0, 1.83), (94.8, 1.3),
           (98.1, 2.33), (98.7, 1.83), (99.6, 3.05), (99.6, 2.24), (99.3, 1.5),
           (1.0, 0.6), (2.5, 0.85), (3.5, 0.7), (4.8, 1.0), (5.8, 0.55), (7.0, 0.9), (8.0, 0.6),
           (9.5, 0.8), (10.5, 0.95), (11.3, 0.65), (12.5, 0.9), (13.5, 0.75), (14.0, 1.05),
           (14.7, 0.6), (16.2, 0.8), (17.0, 0.55), (18.0, 0.7), (19.0, 0.6), (20.0, 0.95),
           (21.8, 1.05), (22.3, 0.6), (23.5, 0.75), (24.8, 0.55), (26.0, 0.65), (26.5, 0.9),
           (27.5, 0.55), (28.2, 0.45), (29.0, 0.6), (31.0, 0.9), (31.5, 1.1), (32.0, 0.7),
           (33.8, 0.8), (35.0, 0.6), (36.0, 1.0), (36.8, 0.7), (38.0, 0.9), (39.5, 0.55),
           (40.8, 0.75), (41.5, 0.6), (43.5, 0.8), (44.5, 0.7), (45.5, 0.55), (47.0, 0.8),
           (48.5, 0.6), (50.0, 0.7), (52.5, 0.55), (54.5, 0.9), (55.5, 0.7), (56.5, 0.6),
           (58.0, 1.1), (59.0, 0.8), (60.5, 0.65), (61.5, 1.0), (63.0, 0.6), (64.5, 0.55),
           (66.0, 0.7), (67.0, 0.9), (68.0, 1.0), (69.0, 1.1), (70.0, 0.8), (73.0, 0.95),
           (74.0, 1.1), (76.0, 0.7), (77.0, 0.9), (78.5, 0.55), (79.0, 1.0), (80.2, 0.6),
           (81.0, 0.85), (83.5, 0.6), (85.0, 0.75), (86.0, 0.55), (88.0, 0.85), (89.0, 0.6),
           (91.0, 0.75), (93.0, 0.6), (94.0, 0.9), (96.0, 0.7), (97.0, 1.1), (98.0, 0.55),
           (99.5, 0.95)]
f_peaks = [(0.3, 1.0), (0.5, 2.02), (2.9, 1.38), (3.5, 3.97), (3.9, 3.19), (5.1, 2.58), (5.6, 2.6),
           (6.3, 3.63), (6.5, 1.52), (7.5, 2.7), (8.9, 1.92), (10.2, 1.7), (11.4, 1.73),
           (12.0, 1.4), (15.4, 3.63), (16.9, 3.49), (15.3, 2.39), (15.6, 1.7), (20.9, 2.46),
           (21.2, 2.29), (24.1, 1.85), (25.9, 1.77), (26.6, 1.38), (29.0, 1.41), (29.4, 1.04),
           (31.8, 1.73), (33.2, 2.87), (33.0, 2.5), (32.6, 1.26), (36.6, 1.92), (38.1, 1.88),
           (39.1, 1.7), (37.8, 1.26), (40.3, 2.83), (45.1, 1.38), (46.5, 1.41), (46.5, 2.26),
           (48.1, 2.55), (53.2, 1.7), (57.2, 1.92), (58.4, 2.07), (59.6, 1.7), (59.9, 1.63),
           (62.5, 1.77), (66.8, 1.38), (69.6, 1.38), (75.7, 3.63), (75.7, 1.85), (76.0, 1.73),
           (79.9, 1.99), (81.5, 1.99), (83.5, 1.41), (84.1, 1.85), (85.6, 4.34), (86.5, 1.04),
           (94.4, 1.44), (97.2, 1.58), (98.4, 2.36), (99.6, 3.05), (99.6, 1.99),
           (1.5, 0.7), (2.2, 0.55), (4.2, 0.9), (4.8, 0.6), (7.0, 0.85), (8.0, 0.6), (9.5, 1.0),
           (10.8, 0.75), (12.8, 0.65), (13.5, 0.9), (14.5, 1.1), (16.3, 0.8), (17.5, 0.6),
           (18.5, 0.9), (19.5, 0.55), (20.3, 0.7), (22.0, 0.6), (23.0, 0.8), (24.5, 1.0),
           (25.3, 0.6), (27.0, 0.75), (28.2, 0.9), (28.6, 0.6), (29.7, 0.75), (31.0, 0.9),
           (32.0, 0.6), (33.6, 1.0), (34.5, 0.7), (35.5, 0.85), (36.3, 0.55), (37.2, 1.05),
           (38.6, 0.65), (39.8, 0.8), (41.0, 0.9), (42.0, 0.6), (43.0, 0.75), (44.2, 0.55),
           (45.5, 0.85), (47.0, 1.0), (48.5, 0.7), (49.5, 0.6), (50.5, 0.85), (51.5, 0.65),
           (52.5, 1.1), (54.0, 0.8), (55.0, 1.0), (56.0, 0.6), (57.8, 0.9), (59.0, 1.2),
           (60.5, 0.75), (61.5, 1.0), (63.0, 0.6), (64.0, 0.85), (65.5, 0.55), (66.0, 0.75),
           (67.5, 0.6), (68.5, 0.9), (70.0, 0.7), (74.0, 0.6), (75.0, 0.9), (76.8, 1.1),
           (77.5, 0.7), (78.5, 0.9), (80.5, 0.65), (82.0, 1.2), (83.0, 0.85), (86.0, 0.6),
           (87.5, 0.75), (89.0, 0.9), (90.5, 0.6), (91.5, 0.8), (93.0, 0.55), (95.0, 0.9),
           (96.0, 0.6), (97.5, 1.1), (98.8, 0.7)]

ij_carpet_x = [3.0, 3.5, 4.0, 4.6, 5.1, 5.6, 6.2, 6.7, 7.2, 7.8,
               8.3, 8.8, 9.4, 9.9, 10.4, 11.0, 11.5, 12.0, 12.6, 13.1,
               13.6, 14.2, 14.7, 15.2, 15.8, 16.3, 16.8, 17.4, 17.9, 18.4,
               19.0, 19.5, 20.0, 20.6, 21.3, 22.0, 22.8, 23.5, 24.3, 25.0,
               25.8, 26.5, 27.3, 28.0, 28.8, 29.5, 30.3, 31.0, 31.8, 32.5,
               33.3, 34.0, 34.8, 35.5, 36.3, 37.0, 37.8, 38.5, 39.2, 39.9,
               40.6, 41.3, 42.0, 42.7, 43.4, 44.1, 44.8, 45.5, 46.2, 46.9,
               47.6, 48.3, 49.0, 50.8, 51.5, 52.2, 52.9, 53.6, 54.3, 55.0,
               55.7, 56.4, 57.1, 57.8, 58.5, 59.2, 62.0, 62.8, 64.5, 65.0,
               70.2, 70.8, 71.4, 72.0, 72.6, 73.2, 73.8, 74.4, 75.0, 75.6,
               76.2, 76.8, 77.4, 78.0, 78.6, 79.2, 79.8, 80.4, 81.0, 81.6,
               82.2, 82.8, 83.4, 84.0, 84.6, 85.2, 85.8, 86.4, 87.0, 87.6,
               88.2, 88.8, 89.4, 90.0, 90.6, 91.2, 91.8, 92.4, 93.0, 93.6,
               94.2, 94.8, 95.4, 96.0, 96.6, 97.2, 97.8, 98.4, 99.0, 99.6]
i_carpet_y = [0.05, 0.18, 0.09, 0.25, 0.03, 0.14, 0.28, 0.07, 0.20, 0.11,
              0.02, 0.16, 0.24, 0.06, 0.12, 0.30, 0.08, 0.19, 0.04, 0.22,
              0.13, 0.27, 0.05, 0.17, 0.09, 0.23, 0.03, 0.15, 0.29, 0.10,
              0.06, 0.20, 0.12, 0.26, 0.08, 0.14, 0.04, 0.18, 0.10, 0.06,
              0.12, 0.03, 0.16, 0.08, 0.20, 0.05, 0.14, 0.02, 0.09, 0.18,
              0.06, 0.11, 0.03, 0.15, 0.07, 0.22, 0.04, 0.13, 0.24, 0.08,
              0.17, 0.05, 0.27, 0.10, 0.20, 0.03, 0.14, 0.25, 0.07, 0.18,
              0.11, 0.04, 0.15, 0.09, 0.26, 0.18, 0.06, 0.22, 0.12, 0.03,
              0.16, 0.08, 0.25, 0.13, 0.05, 0.20, 0.10, 0.03, 0.19, 0.14,
              0.08, 0.22, 0.15, 0.04, 0.27, 0.11, 0.18, 0.06, 0.24, 0.13,
              0.03, 0.20, 0.09, 0.28, 0.14, 0.05, 0.23, 0.11, 0.17, 0.07,
              0.25, 0.12, 0.04, 0.19, 0.09, 0.29, 0.15, 0.06, 0.21, 0.10,
              0.16, 0.03, 0.26, 0.12, 0.08, 0.20, 0.05, 0.14, 0.23, 0.09,
              0.18, 0.06, 0.27, 0.11, 0.04, 0.21, 0.13, 0.08, 0.25, 0.15]
j_carpet_y = [0.10, 0.22, 0.05, 0.30, 0.15, 0.08, 0.26, 0.12, 0.35, 0.04,
              0.19, 0.09, 0.28, 0.14, 0.03, 0.24, 0.11, 0.32, 0.07, 0.17,
              0.25, 0.06, 0.13, 0.21, 0.09, 0.30, 0.04, 0.18, 0.12, 0.27,
              0.08, 0.16, 0.05, 0.22, 0.10, 0.18, 0.03, 0.12, 0.07, 0.20,
              0.04, 0.14, 0.09, 0.25, 0.06, 0.11, 0.17, 0.03, 0.13, 0.08,
              0.19, 0.05, 0.10, 0.03, 0.16, 0.08, 0.12, 0.28, 0.06, 0.15,
              0.10, 0.22, 0.04, 0.17, 0.08, 0.26, 0.13, 0.05, 0.20, 0.11,
              0.07, 0.24, 0.15, 0.09, 0.20, 0.04, 0.13, 0.27, 0.08, 0.16,
              0.22, 0.05, 0.12, 0.18, 0.09, 0.03, 0.14, 0.07, 0.06, 0.11,
              0.15, 0.05, 0.24, 0.10, 0.18, 0.03, 0.21, 0.13, 0.07, 0.28,
              0.09, 0.16, 0.04, 0.23, 0.12, 0.30, 0.07, 0.19, 0.05, 0.14,
              0.26, 0.08, 0.17, 0.03, 0.21, 0.11, 0.15, 0.06, 0.24, 0.10,
              0.04, 0.19, 0.13, 0.27, 0.07, 0.16, 0.22, 0.09, 0.14, 0.05,
              0.20, 0.11, 0.06, 0.25, 0.15, 0.03, 0.18, 0.29, 0.09, 0.13]
ij_low_x = [3.25, 3.75, 4.3, 4.85, 5.35, 5.9, 6.45, 6.95, 7.5, 8.05,
            8.55, 9.1, 9.65, 10.15, 10.7, 11.25, 11.75, 12.3, 12.85, 13.35,
            13.9, 14.45, 14.95, 15.5, 16.05, 16.55, 17.1, 17.65, 18.15, 18.7,
            19.25, 19.75, 20.3, 20.9, 21.7, 22.4, 23.2, 23.9, 24.7, 25.4,
            26.2, 26.9, 27.7, 28.4, 29.2, 29.9, 30.7, 31.4, 32.2, 32.9,
            33.7, 34.4, 35.2, 35.9, 36.7, 37.4, 38.2, 38.85, 39.55, 40.25,
            40.95, 41.65, 42.35, 43.05, 43.75, 44.45, 45.15, 45.85, 46.55, 47.25,
            47.95, 48.65, 49.35, 51.1, 51.8, 52.5, 53.2, 53.9, 54.6, 55.3,
            56.0, 56.7, 57.4, 58.1, 58.8, 62.4, 64.8, 70.5, 71.1, 71.7,
            72.3, 72.9, 73.5, 74.1, 74.7, 75.3, 75.9, 76.5, 77.1, 77.7,
            78.3, 78.9, 79.5, 80.1, 80.7, 81.3, 81.9, 82.5, 83.1, 83.7,
            84.3, 84.9, 85.5, 86.1, 86.7, 87.3, 87.9, 88.5, 89.1, 89.7,
            90.3, 90.9, 91.5, 92.1, 92.7, 93.3, 93.9, 94.5, 95.1, 95.7,
            96.3, 96.9, 97.5, 98.1, 98.7, 99.3, 99.8]
i_low_y = [0.02, 0.08, 0.04, 0.12, 0.06, 0.03, 0.10, 0.05, 0.14, 0.02,
           0.07, 0.11, 0.03, 0.09, 0.05, 0.13, 0.02, 0.08, 0.06, 0.10,
           0.04, 0.12, 0.07, 0.02, 0.09, 0.05, 0.11, 0.03, 0.08, 0.13,
           0.06, 0.02, 0.10, 0.04, 0.07, 0.03, 0.09, 0.02, 0.05, 0.08,
           0.03, 0.06, 0.02, 0.10, 0.04, 0.07, 0.03, 0.05, 0.02, 0.08,
           0.04, 0.09, 0.03, 0.06, 0.02, 0.07, 0.05, 0.10, 0.03, 0.07,
           0.12, 0.04, 0.08, 0.02, 0.10, 0.06, 0.03, 0.09, 0.05, 0.11,
           0.02, 0.07, 0.04, 0.09, 0.03, 0.12, 0.06, 0.02, 0.08, 0.05,
           0.10, 0.03, 0.07, 0.04, 0.02, 0.06, 0.03, 0.05, 0.08, 0.02,
           0.06, 0.11, 0.03, 0.08, 0.05, 0.13, 0.02, 0.09, 0.04, 0.07,
           0.10, 0.02, 0.06, 0.12, 0.04, 0.08, 0.03, 0.11, 0.05, 0.09,
           0.02, 0.07, 0.13, 0.04, 0.10, 0.06, 0.03, 0.08, 0.12, 0.05,
           0.09, 0.03, 0.07, 0.11, 0.02, 0.06, 0.10, 0.04, 0.08, 0.03,
           0.12, 0.05, 0.02, 0.09, 0.06, 0.11, 0.04]
j_low_y = [0.06, 0.02, 0.10, 0.04, 0.13, 0.07, 0.03, 0.09, 0.05, 0.12,
           0.03, 0.08, 0.11, 0.02, 0.06, 0.10, 0.04, 0.14, 0.07, 0.03,
           0.09, 0.05, 0.02, 0.12, 0.07, 0.03, 0.10, 0.06, 0.13, 0.04,
           0.08, 0.03, 0.06, 0.02, 0.09, 0.04, 0.07, 0.03, 0.10, 0.05,
           0.02, 0.07, 0.04, 0.08, 0.03, 0.06, 0.02, 0.09, 0.05, 0.03,
           0.07, 0.04, 0.10, 0.02, 0.06, 0.03, 0.08, 0.05, 0.11, 0.04,
           0.03, 0.09, 0.06, 0.12, 0.02, 0.08, 0.04, 0.10, 0.07, 0.03,
           0.11, 0.05, 0.08, 0.03, 0.10, 0.04, 0.07, 0.12, 0.02, 0.09,
           0.05, 0.08, 0.03, 0.06, 0.10, 0.04, 0.02, 0.03, 0.06, 0.09,
           0.03, 0.10, 0.07, 0.02, 0.12, 0.05, 0.08, 0.04, 0.11, 0.06,
           0.08, 0.03, 0.11, 0.06, 0.02, 0.09, 0.13, 0.04, 0.07, 0.10,
           0.05, 0.12, 0.03, 0.08, 0.06, 0.02, 0.10, 0.07, 0.04, 0.11,
           0.02, 0.09, 0.05, 0.13, 0.07, 0.03, 0.08, 0.11, 0.06, 0.04,
           0.10, 0.03, 0.07, 0.12, 0.02, 0.08, 0.05]
i_peaks = [(4.7, 0.48), (5.3, 0.51), (6.2, 1.34), (8.1, 0.55), (10.2, 0.62), (12.0, 0.4),
           (14.7, 0.41), (18.4, 0.57), (19.0, 0.37), (3.5, 0.35), (7.0, 0.3), (9.0, 0.33),
           (11.0, 0.28), (13.5, 0.35), (16.0, 0.32), (17.5, 0.3), (20.0, 0.33),
           (22.9, 0.5), (29.6, 0.88), (29.8, 0.72), (30.4, 0.48), (29.6, 0.3), (38.9, 0.37),
           (42.1, 0.5), (42.7, 0.33), (45.9, 0.3), (48.4, 0.47), (51.7, 0.57), (52.6, 0.98),
           (53.2, 1.44), (52.6, 0.5), (56.0, 1.68), (55.6, 0.33), (59.3, 0.35), (62.3, 0.53),
           (64.7, 0.17), (70.6, 0.4), (72.2, 1.93), (73.4, 1.66), (73.4, 1.25), (72.2, 0.6),
           (73.0, 0.37), (75.2, 0.88), (76.6, 0.24), (78.5, 0.6), (79.0, 0.4), (81.5, 0.98),
           (82.1, 0.5), (82.7, 0.47), (85.1, 0.3), (86.4, 1.2), (87.0, 1.12), (86.1, 0.68),
           (88.2, 0.37), (90.8, 0.88), (91.0, 0.47), (91.8, 0.24), (92.6, 0.6), (93.6, 0.33),
           (95.0, 0.63), (96.2, 0.57), (96.7, 0.47), (97.4, 0.37), (98.9, 0.47), (99.6, 0.45)]
j_peaks = [(4.7, 0.88), (5.3, 0.7), (5.8, 0.73), (6.6, 1.21), (8.7, 1.11), (9.6, 0.9), (9.8, 0.65),
           (9.2, 0.55), (10.8, 0.43), (16.9, 0.48), (18.7, 1.24), (20.9, 0.63), (6.0, 0.4),
           (7.5, 0.35), (11.5, 0.38), (13.0, 0.3), (14.5, 0.36), (19.5, 0.33), (3.5, 0.3),
           (22.3, 0.5), (24.1, 0.43), (25.9, 0.57), (27.1, 0.58), (31.4, 0.52), (34.2, 0.9),
           (37.5, 0.5), (40.3, 0.57), (43.5, 0.73), (44.1, 0.63), (45.3, 0.53), (46.5, 0.6),
           (47.8, 0.57), (49.0, 0.94), (49.3, 0.6), (51.2, 0.69), (55.1, 0.6), (56.5, 1.1),
           (59.3, 0.63), (59.9, 0.57), (62.3, 0.2), (65.9, 0.17), (71.6, 0.73), (72.2, 0.57),
           (74.1, 0.7), (76.6, 0.4), (77.5, 0.94), (78.7, 0.68), (79.0, 1.24), (81.5, 0.47),
           (82.7, 0.73), (86.4, 0.57), (86.9, 0.73), (89.4, 0.57), (90.2, 0.3), (91.4, 0.4),
           (96.7, 1.13), (97.3, 1.21), (98.6, 0.67), (99.6, 0.63)]

kl_carpet_x = [0.2, 0.7, 1.2, 1.8, 2.3, 2.8, 3.4, 3.9, 4.4, 5.0,
               5.5, 6.0, 6.6, 7.1, 7.6, 8.2, 8.7, 9.2, 9.8, 10.3,
               10.8, 11.4, 11.9, 12.4, 13.0, 13.5, 14.0, 14.6, 15.1, 15.6,
               16.2, 16.7, 17.2, 17.8, 18.3, 18.8, 19.4, 19.9, 20.4, 21.0,
               21.5, 22.0, 22.6, 23.1, 23.6, 24.2, 24.7, 25.2, 25.8, 26.3,
               26.8, 27.4, 27.9, 28.4, 29.0, 29.5, 30.0, 30.6, 31.1, 31.6,
               32.2, 32.7, 33.2, 33.8, 34.3, 34.8, 35.4, 35.9, 36.4, 37.0,
               37.5, 38.0, 38.6, 39.1, 39.6, 40.2, 40.7, 41.2, 41.8, 42.3,
               42.8, 43.4, 43.9, 44.4, 45.0, 49.2, 49.8, 50.4, 51.0, 51.6,
               52.2, 52.8, 53.4, 54.0, 54.6, 55.2, 55.8, 56.4, 57.0, 57.6,
               58.2, 58.8, 59.5, 60.0, 60.6, 61.2, 61.8, 62.4, 63.0, 63.6,
               64.2, 64.8, 65.4, 66.0, 66.6, 67.2, 67.8, 68.4, 69.0, 69.6,
               70.2, 70.8, 71.4, 73.4, 74.0, 74.6, 75.2, 75.8, 76.4, 77.0,
               79.0, 79.6, 80.2, 80.8, 81.4, 82.0, 82.6, 83.2, 84.0, 84.6,
               85.2, 85.8, 86.4, 87.0, 87.6, 88.2, 88.8, 89.4, 90.0, 90.6,
               91.2, 91.8, 92.4, 93.0, 93.6, 94.2, 94.8, 95.4, 96.0, 96.6,
               97.2, 97.8, 98.4, 99.0, 99.6]
k_carpet_y = [0.08, 0.22, 0.04, 0.30, 0.14, 0.06, 0.26, 0.11, 0.19, 0.03,
              0.17, 0.28, 0.07, 0.21, 0.12, 0.33, 0.05, 0.24, 0.15, 0.09,
              0.27, 0.04, 0.18, 0.31, 0.10, 0.23, 0.06, 0.16, 0.29, 0.12,
              0.05, 0.20, 0.34, 0.09, 0.25, 0.14, 0.03, 0.22, 0.11, 0.30,
              0.16, 0.07, 0.27, 0.13, 0.04, 0.24, 0.18, 0.31, 0.08, 0.21,
              0.12, 0.28, 0.05, 0.19, 0.33, 0.10, 0.25, 0.06, 0.17, 0.29,
              0.03, 0.22, 0.14, 0.27, 0.08, 0.32, 0.11, 0.20, 0.05, 0.25,
              0.15, 0.07, 0.30, 0.12, 0.23, 0.04, 0.18, 0.26, 0.09, 0.21,
              0.31, 0.06, 0.17, 0.24, 0.10, 0.14, 0.28, 0.05, 0.20, 0.33,
              0.09, 0.25, 0.16, 0.35, 0.07, 0.22, 0.30, 0.12, 0.27, 0.40,
              0.18, 0.08, 0.25, 0.10, 0.32, 0.05, 0.20, 0.38, 0.14, 0.28,
              0.07, 0.22, 0.42, 0.12, 0.30, 0.17, 0.04, 0.26, 0.35, 0.10,
              0.20, 0.08, 0.15, 0.31, 0.06, 0.24, 0.13, 0.40, 0.09, 0.18,
              0.05, 0.22, 0.12, 0.30, 0.16, 0.08, 0.26, 0.04, 0.11, 0.24,
              0.17, 0.06, 0.29, 0.10, 0.21, 0.14, 0.03, 0.26, 0.08, 0.19,
              0.31, 0.12, 0.05, 0.23, 0.16, 0.28, 0.09, 0.20, 0.06, 0.25,
              0.13, 0.30, 0.07, 0.22, 0.16]
l_carpet_y = [0.15, 0.05, 0.27, 0.10, 0.20, 0.33, 0.07, 0.17, 0.03, 0.24,
              0.09, 0.19, 0.30, 0.05, 0.14, 0.25, 0.11, 0.04, 0.21, 0.29,
              0.06, 0.16, 0.23, 0.08, 0.32, 0.13, 0.19, 0.03, 0.26, 0.10,
              0.21, 0.07, 0.14, 0.28, 0.04, 0.18, 0.31, 0.09, 0.24, 0.12,
              0.05, 0.26, 0.11, 0.20, 0.33, 0.08, 0.15, 0.22, 0.03, 0.29,
              0.18, 0.09, 0.24, 0.04, 0.14, 0.27, 0.06, 0.21, 0.12, 0.31,
              0.10, 0.16, 0.05, 0.23, 0.30, 0.13, 0.07, 0.26, 0.18, 0.04,
              0.25, 0.12, 0.19, 0.06, 0.28, 0.15, 0.09, 0.33, 0.11, 0.22,
              0.04, 0.17, 0.27, 0.08, 0.20, 0.05, 0.13, 0.24, 0.30, 0.07,
              0.18, 0.11, 0.26, 0.04, 0.34, 0.15, 0.21, 0.08, 0.29, 0.12,
              0.38, 0.06, 0.22, 0.14, 0.30, 0.09, 0.26, 0.04, 0.35, 0.17,
              0.11, 0.28, 0.05, 0.20, 0.40, 0.13, 0.24, 0.08, 0.32, 0.16,
              0.06, 0.25, 0.36, 0.10, 0.19, 0.30, 0.05, 0.23, 0.14, 0.38,
              0.20, 0.08, 0.29, 0.15, 0.04, 0.26, 0.12, 0.33, 0.21, 0.07,
              0.14, 0.24, 0.05, 0.18, 0.31, 0.10, 0.22, 0.06, 0.28, 0.13,
              0.03, 0.19, 0.27, 0.09, 0.16, 0.30, 0.11, 0.05, 0.23, 0.15,
              0.26, 0.08, 0.20, 0.12, 0.29]
kl_low_x = [0.45, 0.95, 1.5, 2.05, 2.55, 3.1, 3.65, 4.15, 4.7, 5.25,
            5.75, 6.3, 6.85, 7.35, 7.9, 8.45, 8.95, 9.5, 10.05, 10.55,
            11.1, 11.65, 12.15, 12.7, 13.25, 13.75, 14.3, 14.85, 15.35, 15.9,
            16.45, 16.95, 17.5, 18.05, 18.55, 19.1, 19.65, 20.15, 20.7, 21.25,
            21.75, 22.3, 22.85, 23.35, 23.9, 24.45, 24.95, 25.5, 26.05, 26.55,
            27.1, 27.65, 28.15, 28.7, 29.25, 29.75, 30.3, 30.85, 31.35, 31.9,
            32.45, 32.95, 33.5, 34.05, 34.55, 35.1, 35.65, 36.15, 36.7, 37.25,
            37.75, 38.3, 38.85, 39.35, 39.9, 40.45, 40.95, 41.5, 42.05, 42.55,
            43.1, 43.65, 44.15, 44.7, 49.5, 50.1, 50.7, 51.3, 51.9, 52.5,
            53.1, 53.7, 54.3, 54.9, 55.5, 56.1, 56.7, 57.3, 57.9, 58.5,
            59.15, 59.75, 60.3, 60.9, 61.5, 62.1, 62.7, 63.3, 63.9, 64.5,
            65.1, 65.7, 66.3, 66.9, 67.5, 68.1, 68.7, 69.3, 69.9, 70.5,
            71.1, 73.7, 74.3, 74.9, 75.5, 76.1, 76.7, 79.3, 79.9, 80.5,
            81.1, 81.7, 82.3, 82.9, 83.5, 84.3, 84.9, 85.5, 86.1, 86.7,
            87.3, 87.9, 88.5, 89.1, 89.7, 90.3, 90.9, 91.5, 92.1, 92.7,
            93.3, 93.9, 94.5, 95.1, 95.7, 96.3, 96.9, 97.5, 98.1, 98.7,
            99.3, 99.8]
k_low_y = [0.03, 0.09, 0.05, 0.13, 0.02, 0.07, 0.11, 0.04, 0.15, 0.06,
           0.10, 0.02, 0.08, 0.12, 0.04, 0.06, 0.14, 0.03, 0.09, 0.05,
           0.12, 0.06, 0.02, 0.10, 0.07, 0.14, 0.03, 0.08, 0.05, 0.11,
           0.02, 0.13, 0.06, 0.09, 0.03, 0.11, 0.05, 0.15, 0.07, 0.02,
           0.08, 0.04, 0.12, 0.06, 0.10, 0.02, 0.14, 0.07, 0.03, 0.09,
           0.05, 0.11, 0.03, 0.13, 0.06, 0.09, 0.02, 0.12, 0.07, 0.04,
           0.14, 0.06, 0.10, 0.03, 0.08, 0.12, 0.05, 0.02, 0.11, 0.07,
           0.03, 0.09, 0.13, 0.05, 0.02, 0.10, 0.06, 0.14, 0.04, 0.08,
           0.11, 0.02, 0.07, 0.12, 0.05, 0.09, 0.03, 0.13, 0.06, 0.10,
           0.04, 0.08, 0.14, 0.02, 0.11, 0.06, 0.09, 0.03, 0.12, 0.07,
           0.15, 0.05, 0.22, 0.09, 0.18, 0.03, 0.12, 0.25, 0.07, 0.16,
           0.04, 0.20, 0.10, 0.14, 0.06, 0.23, 0.02, 0.17, 0.09, 0.13,
           0.05, 0.11, 0.19, 0.03, 0.15, 0.08, 0.21, 0.06, 0.13, 0.18,
           0.04, 0.10, 0.16, 0.07, 0.12, 0.02, 0.09, 0.05, 0.13, 0.03,
           0.11, 0.06, 0.14, 0.02, 0.08, 0.12, 0.04, 0.10, 0.07, 0.15,
           0.03, 0.09, 0.13, 0.05, 0.11, 0.02, 0.08, 0.14, 0.06, 0.10,
           0.04, 0.12]
l_low_y = [0.07, 0.02, 0.11, 0.05, 0.14, 0.03, 0.09, 0.12, 0.04, 0.08,
           0.13, 0.06, 0.02, 0.10, 0.07, 0.15, 0.04, 0.09, 0.03, 0.11,
           0.05, 0.12, 0.08, 0.02, 0.14, 0.06, 0.10, 0.03, 0.13, 0.07,
           0.10, 0.04, 0.15, 0.07, 0.02, 0.12, 0.08, 0.05, 0.11, 0.03,
           0.06, 0.13, 0.03, 0.09, 0.12, 0.05, 0.02, 0.10, 0.14, 0.07,
           0.11, 0.03, 0.08, 0.14, 0.06, 0.02, 0.12, 0.09, 0.04, 0.13,
           0.02, 0.10, 0.06, 0.12, 0.04, 0.15, 0.07, 0.03, 0.09, 0.11,
           0.08, 0.14, 0.03, 0.06, 0.11, 0.04, 0.13, 0.02, 0.10, 0.05,
           0.12, 0.07, 0.02, 0.09, 0.14, 0.05, 0.11, 0.03, 0.08, 0.13,
           0.06, 0.10, 0.04, 0.15, 0.02, 0.12, 0.07, 0.09, 0.03, 0.11,
           0.18, 0.06, 0.24, 0.11, 0.03, 0.20, 0.14, 0.08, 0.26, 0.05,
           0.16, 0.10, 0.22, 0.04, 0.19, 0.12, 0.07, 0.25, 0.02, 0.15,
           0.21, 0.09, 0.13, 0.17, 0.04, 0.23, 0.11, 0.06, 0.19, 0.14,
           0.08, 0.20, 0.03, 0.12, 0.16, 0.06, 0.10, 0.13, 0.04, 0.09,
           0.14, 0.05, 0.11, 0.08, 0.02, 0.13, 0.06, 0.10, 0.15, 0.03,
           0.09, 0.12, 0.04, 0.07, 0.14, 0.02, 0.11, 0.05, 0.08, 0.13,
           0.06, 0.10]
k_peaks = [(0.4, 0.6), (2.0, 0.52), (5.3, 0.61), (9.6, 0.72), (11.0, 1.85), (11.6, 0.93),
           (13.5, 0.9), (13.8, 0.67), (18.1, 1.67), (17.5, 0.65), (20.9, 0.67), (25.7, 0.73),
           (26.2, 0.69), (27.8, 0.57), (30.9, 0.7), (32.3, 0.77), (36.6, 1.85), (36.2, 1.23),
           (36.2, 0.6), (39.3, 1.33), (39.6, 0.88), (38.7, 0.72), (42.9, 1.18), (41.7, 0.47),
           (49.6, 1.23), (51.5, 0.73), (50.3, 0.57), (56.8, 1.94), (57.2, 0.9), (57.2, 0.67),
           (59.3, 1.69), (59.3, 1.08), (59.7, 0.5), (61.4, 0.8), (63.5, 0.67), (64.1, 0.57),
           (66.0, 0.6), (66.6, 0.52), (67.8, 0.72), (69.0, 0.8), (65.1, 0.73), (67.2, 0.4),
           (76.2, 0.5), (76.8, 0.4), (80.7, 0.73), (81.1, 0.53), (79.9, 0.33), (85.1, 0.72),
           (87.2, 0.88), (88.4, 0.5), (88.8, 1.52), (90.2, 0.92), (91.2, 0.4), (92.6, 1.49),
           (94.4, 0.5), (96.0, 2.0), (96.2, 0.52), (99.6, 1.45), (99.6, 1.14),
           (1.5, 0.45), (3.0, 0.38), (4.5, 0.42), (7.0, 0.35), (8.5, 0.45), (12.5, 0.4),
           (15.0, 0.36), (16.5, 0.47), (19.5, 0.38), (22.0, 0.42), (23.5, 0.34), (28.8, 0.4),
           (29.8, 0.48), (33.5, 0.35), (35.0, 0.42), (40.5, 0.38), (43.8, 0.33), (50.8, 0.45),
           (52.5, 0.38), (53.5, 0.5), (54.5, 0.42), (55.5, 0.55), (56.0, 0.47), (58.0, 0.6),
           (58.6, 0.5), (84.5, 0.4), (86.5, 0.35), (89.5, 0.45), (93.5, 0.38), (95.0, 0.44),
           (97.0, 0.35), (98.5, 0.48), (62.5, 0.45), (68.5, 0.48), (70.5, 0.42), (75.0, 0.35)]
l_peaks = [(1.1, 0.83), (0.3, 0.65), (3.5, 0.78), (6.2, 0.52), (8.9, 0.9), (9.2, 0.68),
           (10.2, 0.52), (11.4, 0.62), (13.2, 0.96), (15.6, 1.21), (15.0, 0.42), (18.1, 0.36),
           (21.2, 0.59), (25.4, 0.59), (28.1, 0.68), (30.5, 0.78), (29.6, 0.55), (32.0, 0.42),
           (36.6, 1.21), (36.2, 0.55), (39.6, 0.82), (38.7, 0.49), (42.9, 0.65), (41.7, 0.45),
           (50.3, 0.57), (51.5, 0.39), (55.7, 0.7), (56.3, 1.22), (58.1, 1.51), (59.0, 1.21),
           (58.8, 0.95), (56.6, 0.47), (57.5, 0.45), (63.0, 0.85), (63.3, 0.7), (65.4, 1.18),
           (62.4, 0.42), (67.2, 0.36), (74.5, 0.7), (75.2, 0.5), (75.7, 0.45), (79.9, 0.7),
           (80.7, 0.82), (81.1, 0.59), (84.1, 0.8), (88.4, 0.85), (89.0, 0.78), (89.6, 0.72),
           (92.0, 0.72), (96.2, 0.83), (99.6, 0.93), (98.7, 0.57), (86.6, 0.49), (90.2, 0.49),
           (93.8, 0.42), (97.5, 0.45), (2.5, 0.4), (5.0, 0.45), (7.5, 0.38), (12.0, 0.45),
           (17.0, 0.4), (20.0, 0.35), (23.0, 0.42), (26.5, 0.38), (34.0, 0.4), (44.0, 0.36),
           (53.0, 0.45), (54.5, 0.4), (60.5, 0.5), (64.5, 0.48), (69.5, 0.45), (82.0, 0.4)]

# ---------------- helpers ----------------
def PX(x):
    return min(1.0, max(0.0, (x - OFF) / W))


def PY(y):
    return min(1.0, max(0.0, 1 - (y - OFF) / H))


fig = go.Figure()
layout = dict(width=W, height=H, autosize=False, margin=dict(l=0, r=0, t=0, b=0, pad=0),
              paper_bgcolor="white", plot_bgcolor="white", showlegend=False,
              font=dict(family=FONT, size=16, color=TXT))
annotations = []
shapes = []


def ann(text, x, y, size=16, xanchor="center", yanchor="middle", angle=0):
    annotations.append(dict(text=text, x=PX(x), y=PY(y), xref="paper", yref="paper",
                            showarrow=False, xanchor=xanchor, yanchor=yanchor, textangle=angle,
                            font=dict(family=FONT, size=size, color=TXT)))


def seg(x0, y0, x1, y1, color, width):
    shapes.append(dict(type="line", xref="paper", yref="paper", x0=PX(x0), y0=PY(y0),
                       x1=PX(x1), y1=PY(y1), line=dict(color=color, width=width)))


# ---------------- left: LOD panels ----------------
lod_panels = [
    dict(n=1, box=(79, 347, 29, 208), xr=[-2.3, 48.3], yr=[-0.24, 4.99],
         xt=[0, 10, 20, 30, 40], yt=[0, 1, 2, 3, 4]),
    dict(n=2, box=(100, 325, 305, 487), xr=[-2.46, 52.95], yr=[-0.82, 15.82],
         xt=[0, 10, 20, 30, 40, 50], yt=[0, 5, 10, 15]),
    dict(n=3, box=(79, 325, 592, 772), xr=[-6.46, 69.2], yr=[-0.72, 15.54],
         xt=[0, 20, 40, 60], yt=[0, 5, 10, 15]),
    dict(n=4, box=(74, 322, 867, 1048), xr=[-8.9, 69.9], yr=[-0.28, 6.0],
         xt=[0, 20, 40, 60], yt=[0, 2, 4, 6]),
]
for p in lod_panels:
    n = p["n"]
    x0, x1, y0, y1 = p["box"]
    common = dict(showline=True, mirror=True, linecolor="#b0b0b0", linewidth=1,
                  ticks="outside", ticklen=4, tickcolor="#8a8a8a", showgrid=False,
                  zeroline=False, tickfont=dict(family=FONT, size=16, color=TXT), fixedrange=True)
    layout[f"xaxis{n}"] = dict(domain=[PX(x0), PX(x1)], range=p["xr"], tickvals=p["xt"],
                               anchor=f"y{n}", **common)
    layout[f"yaxis{n}"] = dict(domain=[PY(y1), PY(y0)], range=p["yr"], tickvals=p["yt"],
                               anchor=f"x{n}", **common)


def lod_line(x, y, color, name, n, width=3):
    fig.add_trace(go.Scatter(x=x, y=y, mode="lines", name=name, line=dict(color=color, width=width),
                             xaxis=f"x{n}", yaxis=f"y{n}", hoverinfo="skip"))


def ci_bar(interval, level, color, n, width=2):
    fig.add_trace(go.Scatter(x=interval, y=[level, level], mode="lines",
                             line=dict(color=color, width=width), xaxis=f"x{n}", yaxis=f"y{n}",
                             hoverinfo="skip"))


lod_line(a_pos, a_br, C_BR, "BR", 1)
ci_bar(a_ci_br, 0, C_BR, 1)
lod_line(b_lum_pos, b_lum, C_LUM, "luminance", 2)
lod_line(b_br_pos, b_br, C_BR, "BR", 2)
lod_line(b_ridge_pos, b_ridge, C_RIDGE, "ridge spacing", 2)
ci_bar(b_ci_lum, 0.45, C_LUM, 2)
ci_bar(b_ci_ridge, 0.22, C_RIDGE, 2)
ci_bar(b_ci_br, 0, C_BR, 2)
lod_line(g_lum_pos, g_lum, C_LUM, "luminance", 3)
lod_line(g_br_pos, g_br, C_BR, "BR", 3)
ci_bar(g_ci_br, 0, C_BR, 3, width=2.2)
ci_bar(g_ci_lum, 0.15, C_LUM, 3, width=2.5)
lod_line(h_pos, h_ridge, C_RIDGE, "ridge spacing", 4)
ci_bar(h_ci_ridge, 0, C_RIDGE, 4)

# legends (key swatch + label) below each LOD panel
legend_rows = [
    (261, [(197, C_BR, "BR")]),
    (543, [(81, C_LUM, "luminance"), (184, C_BR, "BR"), (246, C_RIDGE, "ridge spacing")]),
    (825, [(120, C_LUM, "luminance"), (228, C_BR, "BR")]),
    (1103, [(155, C_RIDGE, "ridge spacing")]),
]
for ly, entries in legend_rows:
    for lx, col, label in entries:
        seg(lx, ly, lx + 19, ly, col, 4)
        ann(label, lx + 25, ly, size=16, xanchor="left")

for tag, title, box, lod_x, map_y, tag_x, tag_y, title_y in [
    ("a", "chromosome 20", (79, 347, 29, 208), 50, 242, 52, 23, 19),
    ("b", "chromosome Z", (100, 325, 305, 487), 65, 521, 52, 295, 295),
    ("g", "chromosome 3", (79, 325, 592, 772), 50, 807, 52, 580, 578),
    ("h", "chromosome 7", (74, 322, 867, 1048), 57, 1082, 49, 856, 857),
]:
    x0, x1, y0, y1 = box
    ann(f"(<i>{tag}</i>)", tag_x, tag_y, size=15)
    ann(title, (x0 + x1) / 2 - 2, title_y, size=15)
    ann("LOD", lod_x, (y0 + y1) / 2, size=16, angle=-90)
    ann("map position (cM)", (x0 + x1) / 2 - 6, map_y, size=16)

# ---------------- right: Manhattan panels ----------------
point_colors = {"grey": C_GREY, "BR": C_BR_PT, "lum": C_LUM, "ridge": C_RIDGE}

man_panels = [
    dict(n=5, tag="c", pct="50%", y0=8, y1=131, ymax=4.39, yt=[1, 2, 3, 4], tag_y=15, pct_y=19,
         series=[(cd_carpet_x, c_carpet_y), (cd_low_x, c_low_y)], peaks=c_peaks,
         regions=cd_regions, solid=False, gp=False),
    dict(n=6, tag="d", pct="70%", y0=138, y1=264, ymax=5.5, yt=[1, 2, 3, 4, 5], tag_y=142, pct_y=149,
         series=[(cd_carpet_x, d_carpet_y), (cd_low_x, d_low_y)], peaks=d_peaks,
         regions=cd_regions, solid=False, gp=True),
    dict(n=7, tag="e", pct="50%", y0=283, y1=408, ymax=4.5, yt=[1, 2, 3, 4], tag_y=286, pct_y=295,
         series=[(ef_carpet_x, e_carpet_y), (ef_low_x, e_low_y)], peaks=e_peaks,
         regions=ef_regions, solid=False, gp=False),
    dict(n=8, tag="f", pct="70%", y0=417, y1=543, ymax=5.5, yt=[1, 2, 3, 4, 5], tag_y=426, pct_y=432,
         series=[(ef_carpet_x, f_carpet_y), (ef_low_x, f_low_y)], peaks=f_peaks,
         regions=ef_regions, solid=False, gp=True),
    dict(n=9, tag="i", pct="50%", y0=567, y1=693, ymax=2.5, yt=[0.5, 1.0, 1.5, 2.0], tag_y=575, pct_y=579,
         series=[(ij_carpet_x, i_carpet_y), (ij_low_x, i_low_y)], peaks=i_peaks,
         regions=ij_regions, solid=True, gp=False),
    dict(n=10, tag="j", pct="70%", y0=701, y1=827, ymax=2.5, yt=[0.5, 1.0, 1.5, 2.0], tag_y=709, pct_y=713,
         series=[(ij_carpet_x, j_carpet_y), (ij_low_x, j_low_y)], peaks=j_peaks,
         regions=ij_regions, solid=True, gp=True),
    dict(n=11, tag="k", pct="50%", y0=847, y1=973, ymax=2.5, yt=[0.5, 1.0, 1.5, 2.0], tag_y=855, pct_y=859,
         series=[(kl_carpet_x, k_carpet_y), (kl_low_x, k_low_y)], peaks=k_peaks,
         regions=kl_regions, solid=True, gp=False),
    dict(n=12, tag="l", pct="70%", y0=985, y1=1112, ymax=2.5, yt=[0.5, 1.0, 1.5, 2.0], tag_y=993, pct_y=997,
         series=[(kl_carpet_x, l_carpet_y), (kl_low_x, l_low_y)], peaks=l_peaks,
         regions=kl_regions, solid=True, gp=True),
]
MX0, MX1 = 422, 697
for p in man_panels:
    n = p["n"]
    layout[f"xaxis{n}"] = dict(domain=[PX(MX0), PX(MX1)], range=[-0.3, 100.3], anchor=f"y{n}",
                               showline=True, mirror=True, linecolor="#6a6a6a", linewidth=1,
                               showticklabels=False, ticks="", showgrid=False, zeroline=False,
                               fixedrange=True)
    fmt = ".1f" if p["ymax"] < 3 else "d"
    layout[f"yaxis{n}"] = dict(domain=[PY(p["y1"]), PY(p["y0"])], range=[0, p["ymax"]],
                               tickvals=p["yt"], tickformat=fmt, anchor=f"x{n}",
                               showline=True, mirror=True, linecolor="#6a6a6a", linewidth=1,
                               ticks="outside", ticklen=4, tickcolor="#6a6a6a", showgrid=False,
                               zeroline=False, tickfont=dict(family=FONT, size=16, color=TXT),
                               fixedrange=True)
    pts = []
    for sx, sy in p["series"]:
        pts.extend(zip(sx, sy))
    pts.extend(p["peaks"])
    groups = {}
    for x, y in pts:
        cat = "grey"
        for lo, hi, key in p["regions"]:
            if lo <= x < hi:
                cat = key
        groups.setdefault(cat, ([], []))
        groups[cat][0].append(x)
        groups[cat][1].append(y)
    for cat in ["grey", "ridge", "lum", "BR"]:
        if cat in groups:
            gx, gy = groups[cat]
            fig.add_trace(go.Scatter(x=gx, y=gy, mode="markers", name=cat,
                                     marker=dict(color=point_colors[cat], size=3.9, line=dict(width=0)),
                                     xaxis=f"x{n}", yaxis=f"y{n}", hoverinfo="skip"))
    shapes.append(dict(type="line", xref=f"x{n} domain", yref=f"y{n}", x0=0, x1=1,
                       y0=fdr_dashed, y1=fdr_dashed, layer="above",
                       line=dict(color=C_RED, width=2, dash="8px,5px")))
    if p["solid"]:
        shapes.append(dict(type="line", xref=f"x{n} domain", yref=f"y{n}", x0=0, x1=1,
                           y0=fdr_solid, y1=fdr_solid, layer="above",
                           line=dict(color=C_RED, width=2)))
    yc = (p["y0"] + p["y1"]) / 2
    ann(f"(<i>{p['tag']}</i>)", 382, p["tag_y"], size=15)
    ann(p["pct"], 690, p["pct_y"], size=15, xanchor="right")
    ann("-log<sub>10</sub> (FDR)", 384, yc, size=16, angle=-90)
    if p["gp"]:
        ann("genomic position", (MX0 + MX1) / 2, p["y1"] + 10, size=16)

# ---------------- species brackets ----------------
for (xa, ya, xb, yb) in [(35, 9, 35, 552), (29, 9, 41, 9), (29, 552, 41, 552),
                         (35, 556, 35, 1116), (29, 556, 41, 556), (29, 1116, 41, 1116)]:
    seg(xa, ya, xb, yb, "black", 2)
ann("<i>erato</i>", 17, 282, size=16, angle=-90)
ann("<i>melpomene</i>", 17, 830, size=16, angle=-90)

layout["annotations"] = annotations
layout["shapes"] = shapes
fig.update_layout(**layout)
fig.write_html("out.html")
